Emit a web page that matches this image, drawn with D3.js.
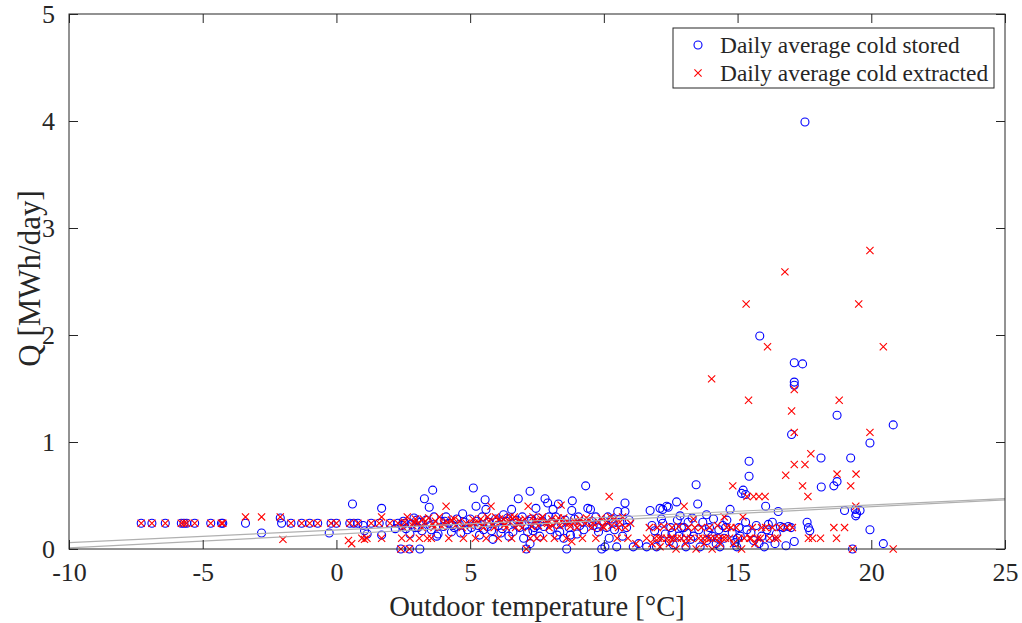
<!DOCTYPE html>
<html>
<head>
<meta charset="utf-8">
<script src="https://cdn.jsdelivr.net/npm/d3@7"></script>
<style>
  html, body { margin: 0; padding: 0; background: #fff; }
  svg { display: block; }
  text { font-family: "Liberation Serif", "Times New Roman", serif; fill: #262626; }
</style>
</head>
<body>
<svg id="chart" width="1022" height="623"></svg>
<script>
// ---------------- data ----------------
const xTicks = [-10, -5, 0, 5, 10, 15, 20, 25];
const yTicks = [0, 1, 2, 3, 4, 5];
const seriesNames = ["Daily average cold stored", "Daily average cold extracted"];
const xLabel = "Outdoor temperature [°C]";
const yLabel = "Q [MWh/day]";

// [outdoor temperature °C, Q MWh/day]
const stored = [
  [-7.3,0.24],[-6.9,0.24],[-6.4,0.24],[-5.8,0.24],[-5.7,0.24],[-5.6,0.24],[-5.3,0.24],[-4.7,0.24],[-4.3,0.24],[-4.25,0.24],
  [-3.4,0.24],[-2.8,0.15],[-2.1,0.29],[-2.05,0.24],[-1.7,0.24],[-1.3,0.24],[-1.0,0.24],[-0.7,0.24],[-0.27,0.15],[-0.2,0.24],
  [0.0,0.24],[0.5,0.24],[0.6,0.42],[0.65,0.24],[0.8,0.24],[1.0,0.22],[1.05,0.17],[1.15,0.14],[1.3,0.24],[1.6,0.24],
  [1.69,0.38],[1.69,0.13],[2.0,0.24],[2.2,0.19],
  [2.3,0.24],[2.41,0.0],[2.45,0.22],[2.5,0.26],[2.56,0.24],[2.6,0.19],[2.73,0.0],[2.75,0.14],[2.8,0.23],[2.9,0.29],
  [2.95,0.2],[3.0,0.27],[3.05,0.2],[3.12,0.0],[3.15,0.25],[3.2,0.17],[3.29,0.47],[3.35,0.27],[3.47,0.39],[3.5,0.22],
  [3.55,0.18],[3.6,0.55],[3.65,0.3],[3.75,0.12],[3.8,0.14],[3.9,0.26],[4.0,0.21],[4.05,0.26],[4.1,0.3],[4.2,0.24],
  [4.3,0.16],[4.35,0.22],[4.4,0.2],[4.5,0.28],[4.6,0.23],[4.65,0.15],[4.72,0.33],[4.8,0.25],[4.9,0.18],
  [5.0,0.28],[5.05,0.2],[5.12,0.57],[5.22,0.40],[5.25,0.26],[5.3,0.22],[5.35,0.13],[5.45,0.3],[5.5,0.18],[5.56,0.46],
  [5.59,0.37],[5.65,0.21],[5.7,0.25],[5.8,0.17],[5.85,0.09],[5.95,0.28],[6.0,0.25],[6.05,0.22],[6.15,0.15],[6.2,0.19],
  [6.25,0.32],[6.35,0.26],[6.4,0.29],[6.45,0.12],[6.55,0.37],[6.6,0.16],[6.65,0.24],[6.75,0.27],[6.8,0.47],[6.85,0.2],
  [6.95,0.3],[7.0,0.1],[7.05,0.22],[7.1,0.0],[7.15,0.16],[7.2,0.26],[7.24,0.54],[7.24,0.05],[7.3,0.28],[7.35,0.17],
  [7.4,0.2],[7.46,0.38],[7.5,0.22],[7.55,0.29],[7.6,0.12],[7.7,0.26],[7.75,0.21],[7.8,0.47],[7.9,0.43],[7.95,0.3],
  [8.0,0.18],[8.05,0.25],[8.1,0.37],[8.2,0.3],[8.25,0.13],[8.3,0.42],[8.35,0.16],[8.4,0.24],[8.5,0.1],[8.55,0.27],
  [8.61,0.0],[8.7,0.2],[8.75,0.13],[8.8,0.36],[8.82,0.45],[8.9,0.28],[9.0,0.14],[9.05,0.3],[9.1,0.22],[9.2,0.25],
  [9.25,0.18],[9.32,0.59],[9.4,0.38],[9.5,0.37],[9.55,0.26],[9.6,0.22],[9.7,0.3],[9.75,0.2],[9.8,0.16],[9.92,0.0],
  [10.0,0.26],[10.04,0.02],[10.1,0.2],[10.15,0.3],[10.2,0.1],[10.3,0.28],[10.35,0.24],[10.4,0.18],[10.48,0.02],[10.52,0.35],
  [10.6,0.25],[10.7,0.12],[10.79,0.43],[10.79,0.35],[10.85,0.2],[10.95,0.27],[11.1,0.02],[11.3,0.05],
  [11.6,0.02],[11.73,0.36],[11.8,0.22],[11.9,0.17],[11.97,0.02],[12.0,0.1],[12.1,0.38],[12.15,0.28],[12.2,0.37],[12.2,0.24],
  [12.3,0.14],[12.35,0.4],[12.41,0.39],[12.45,0.07],[12.5,0.2],[12.55,0.15],[12.6,0.04],[12.72,0.44],[12.75,0.27],[12.8,0.12],
  [12.85,0.31],[12.9,0.2],[13.0,0.2],[13.07,0.02],[13.1,0.15],[13.15,0.25],[13.25,0.09],[13.3,0.29],[13.35,0.12],[13.45,0.60],
  [13.51,0.42],[13.55,0.18],[13.6,0.02],[13.7,0.25],[13.84,0.32],[13.85,0.08],[13.9,0.16],[13.95,0.2],[14.05,0.12],[14.1,0.28],
  [14.2,0.05],[14.25,0.1],[14.3,0.18],[14.34,0.02],[14.45,0.22],[14.5,0.1],[14.55,0.2],[14.6,0.27],[14.72,0.37],[14.8,0.15],
  [14.9,0.06],[14.97,0.02],[15.0,0.1],
  [15.05,0.2],[15.1,0.12],[15.15,0.52],[15.21,0.55],[15.3,0.51],[15.3,0.25],[15.35,0.18],[15.43,0.82],[15.43,0.68],[15.5,0.15],
  [15.6,0.08],[15.7,0.22],[15.8,0.05],[15.83,1.99],[15.9,0.12],[16.0,0.02],[16.05,0.40],[16.1,0.18],[16.15,0.23],[16.2,0.1],
  [16.3,0.25],[16.4,0.05],[16.45,0.14],[16.52,0.35],[16.6,0.21],[16.7,0.2],[16.81,0.03],[16.9,0.21],[17.0,0.2],[17.02,1.07],
  [17.12,1.74],[17.12,1.56],[17.12,1.53],[17.12,0.07],[17.43,1.73],[17.52,3.99],[17.6,0.25],[17.65,0.2],[17.7,0.17],[18.12,0.85],
  [18.13,0.58],[18.6,0.59],[18.72,0.63],[18.72,1.25],[19.0,0.36],[19.23,0.85],[19.3,0.0],[19.4,0.37],[19.45,0.33],[19.42,0.31],
  [19.58,0.36],[19.95,0.99],[19.95,0.18],[20.45,0.05],[20.82,1.16]
];

const extracted = [
  [-7.3,0.24],[-6.9,0.24],[-6.4,0.24],[-5.8,0.24],[-5.7,0.24],[-5.6,0.24],[-5.3,0.24],[-4.7,0.24],[-4.3,0.24],[-4.25,0.24],
  [-3.4,0.30],[-2.8,0.30],[-2.1,0.30],[-2.0,0.09],[-1.7,0.24],[-1.3,0.24],[-1.0,0.24],[-0.7,0.24],[-0.2,0.24],[0.0,0.24],
  [0.45,0.08],[0.5,0.24],[0.57,0.05],[0.8,0.24],[0.95,0.1],[1.05,0.09],[1.14,0.1],[1.3,0.24],[1.6,0.24],[1.69,0.30],
  [1.69,0.1],[2.0,0.24],
  [2.3,0.24],[2.41,0.0],[2.44,0.1],[2.5,0.2],[2.55,0.25],[2.65,0.3],[2.73,0.0],[2.75,0.1],[2.85,0.22],[2.9,0.25],
  [2.95,0.28],[3.05,0.24],[3.1,0.1],[3.2,0.2],[3.25,0.28],[3.3,0.25],[3.4,0.1],[3.45,0.29],[3.55,0.1],[3.6,0.23],
  [3.65,0.2],[3.7,0.26],[3.85,0.3],[3.95,0.21],[4.0,0.24],[4.1,0.40],[4.15,0.25],[4.2,0.1],[4.3,0.27],[4.4,0.28],
  [4.45,0.22],[4.6,0.26],[4.7,0.2],[4.75,0.1],[4.85,0.24],
  [5.0,0.22],[5.1,0.28],[5.15,0.24],[5.2,0.1],[5.3,0.25],[5.4,0.28],[5.45,0.22],[5.5,0.2],[5.6,0.1],[5.65,0.3],
  [5.7,0.26],[5.78,0.40],[5.85,0.23],[5.9,0.2],[5.95,0.3],[6.05,0.1],[6.1,0.28],[6.15,0.25],[6.25,0.28],[6.3,0.23],
  [6.35,0.2],[6.45,0.26],[6.5,0.3],[6.55,0.1],[6.65,0.3],[6.7,0.2],[6.75,0.24],[6.85,0.27],[6.9,0.25],[6.95,0.2],
  [7.05,0.28],[7.1,0.0],[7.17,0.40],[7.25,0.1],[7.3,0.21],[7.35,0.3],[7.4,0.26],[7.45,0.25],[7.5,0.1],[7.55,0.22],
  [7.65,0.28],[7.7,0.3],[7.75,0.1],[7.85,0.25],[7.9,0.24],[7.95,0.2],[8.05,0.28],[8.1,0.22],[8.15,0.1],[8.25,0.26],
  [8.3,0.29],[8.35,0.22],[8.4,0.41],[8.5,0.29],[8.55,0.24],[8.6,0.1],[8.7,0.24],[8.75,0.21],[8.8,0.07],[8.9,0.26],
  [9.0,0.2],[9.05,0.25],[9.1,0.28],[9.2,0.1],[9.3,0.24],[9.35,0.29],[9.45,0.27],[9.55,0.2],[9.6,0.24],[9.7,0.1],
  [9.8,0.25],[9.9,0.29],[9.95,0.21],
  [10.0,0.2],[10.1,0.26],[10.2,0.49],[10.25,0.3],[10.3,0.22],[10.4,0.28],[10.5,0.1],[10.55,0.2],[10.6,0.25],[10.7,0.3],
  [10.8,0.2],[10.9,0.1],[11.0,0.24],[11.2,0.05],
  [11.6,0.1],[11.7,0.2],[11.8,0.05],[11.9,0.1],[12.0,0.2],[12.05,0.1],[12.1,0.02],[12.15,0.1],[12.25,0.21],[12.35,0.1],
  [12.45,0.05],[12.5,0.1],[12.55,0.2],[12.6,0.1],[12.7,0.0],[12.75,0.1],[12.8,0.21],[12.9,0.1],[13.0,0.40],[13.05,0.05],
  [13.1,0.1],[13.15,0.2],[13.25,0.1],[13.35,0.28],[13.4,0.2],[13.45,0.0],[13.55,0.1],[13.65,0.2],[13.7,0.1],[13.75,0.05],
  [13.85,0.1],[13.95,0.2],[14.0,0.1],[14.03,1.59],[14.05,0.0],[14.15,0.1],[14.25,0.22],[14.3,0.1],[14.35,0.05],[14.45,0.1],
  [14.5,0.30],[14.55,0.1],[14.6,0.2],[14.7,0.1],[14.75,0.2],[14.82,0.59],[14.85,0.05],[14.95,0.2],
  [15.05,0.1],[15.15,0.0],[15.2,0.30],[15.25,0.1],[15.32,2.29],[15.35,0.49],[15.41,1.39],[15.45,0.1],[15.5,0.1],[15.55,0.2],
  [15.6,0.49],[15.65,0.05],[15.75,0.1],[15.8,0.49],[15.85,0.1],[15.9,0.2],[16.03,0.49],[16.05,0.2],[16.12,1.89],[16.2,0.1],
  [16.3,0.2],[16.4,0.1],[16.5,0.1],[16.6,0.2],[16.77,2.59],[16.8,0.69],[16.85,0.2],[17.02,1.29],[17.05,0.2],[17.12,1.49],
  [17.12,1.09],[17.12,0.79],[17.43,0.59],[17.52,0.79],[17.63,0.49],[17.65,0.1],[17.74,0.89],[17.8,0.1],[18.1,0.1],[18.6,0.2],
  [18.7,0.1],[18.72,0.70],[18.8,1.39],[19.0,0.2],[19.23,0.59],[19.3,0.0],[19.43,0.70],[19.42,0.40],[19.53,2.29],[19.95,2.79],
  [19.95,1.09],[20.45,1.89],[20.82,0.0]
];

// linear trend lines (value at x = -10 and x = 25)
const trendX = [-10, 25];
const trendStored = [0.06, 0.47];
const trendExtracted = [0.01, 0.46];

// ---------------- chart ----------------
const W = 1022, H = 623;
const M = { left: 69, right: 1022 - 1005, top: 14, bottom: 623 - 549 };
const svg = d3.select("#chart");
const x = d3.scaleLinear().domain([-10, 25]).range([M.left, W - M.right]);
const y = d3.scaleLinear().domain([0, 5]).range([H - M.bottom, M.top]);
const axisColor = "#262626";
const tickFont = 26;
const serif = '"Liberation Serif", "Times New Roman", serif';

const plot = svg.append("g");

// markers: circles first
plot.append("g").selectAll("circle").data(stored).join("circle")
  .attr("cx", d => x(d[0])).attr("cy", d => y(d[1])).attr("r", 4)
  .attr("fill", "none").attr("stroke", "#0000ff").attr("stroke-width", 1.1);

const xs = 3.6;
plot.append("g").selectAll("path").data(extracted).join("path")
  .attr("d", d => {
    const cx = x(d[0]), cy = y(d[1]);
    return `M${cx - xs},${cy - xs}L${cx + xs},${cy + xs}M${cx - xs},${cy + xs}L${cx + xs},${cy - xs}`;
  })
  .attr("fill", "none").attr("stroke", "#ff0000").attr("stroke-width", 1.1);

// trend lines
const line = d3.line().x(d => x(d[0])).y(d => y(d[1]));
[trendStored, trendExtracted].forEach(vals => {
  plot.append("path").datum(trendX.map((t, i) => [t, vals[i]]))
    .attr("d", line).attr("fill", "none").attr("stroke", "#b0b0b0").attr("stroke-width", 1.2);
});

// axes box
const axG = svg.append("g");
axG.append("rect").attr("x", M.left).attr("y", M.top)
  .attr("width", W - M.right - M.left).attr("height", H - M.bottom - M.top)
  .attr("fill", "none").attr("stroke", axisColor).attr("stroke-width", 1);

const tl = 9;
const fmt = d => (d < 0 ? "-" + Math.abs(d) : String(d));
const xb = axG.append("g").attr("transform", `translate(0,${H - M.bottom})`)
  .call(d3.axisBottom(x).tickValues(xTicks).tickSize(-tl).tickPadding(14).tickFormat(fmt));
const xt = axG.append("g").attr("transform", `translate(0,${M.top})`)
  .call(d3.axisTop(x).tickValues(xTicks).tickSize(-tl).tickFormat(""));
const yl = axG.append("g").attr("transform", `translate(${M.left},0)`)
  .call(d3.axisLeft(y).tickValues(yTicks).tickSize(-tl).tickPadding(14).tickFormat(fmt));
const yr = axG.append("g").attr("transform", `translate(${W - M.right},0)`)
  .call(d3.axisRight(y).tickValues(yTicks).tickSize(-tl).tickFormat(""));

[xb, xt, yl, yr].forEach(g => {
  g.select(".domain").remove();
  g.selectAll(".tick line").attr("stroke", axisColor);
  g.selectAll(".tick text").attr("fill", axisColor)
    .style("font-family", serif).style("font-size", tickFont + "px");
});

// axis labels
svg.append("text").attr("x", (M.left + W - M.right) / 2).attr("y", 616)
  .attr("text-anchor", "middle").style("font-size", "28.6px").text(xLabel);
svg.append("text").attr("transform", `translate(40,${(M.top + H - M.bottom) / 2 - 3}) rotate(-90)`)
  .attr("text-anchor", "middle").style("font-size", "31px").text(yLabel);

// legend
const lg = svg.append("g");
lg.append("rect").attr("x", 673).attr("y", 28).attr("width", 321).attr("height", 60)
  .attr("fill", "#fff").attr("stroke", axisColor).attr("stroke-width", 1);
lg.append("circle").attr("cx", 698).attr("cy", 45).attr("r", 4)
  .attr("fill", "none").attr("stroke", "#0000ff").attr("stroke-width", 1.1);
lg.append("path").attr("d", `M${698 - xs},${73 - xs}L${698 + xs},${73 + xs}M${698 - xs},${73 + xs}L${698 + xs},${73 - xs}`)
  .attr("stroke", "#ff0000").attr("stroke-width", 1.1).attr("fill", "none");
lg.selectAll("text.lt").data(seriesNames).join("text").attr("class", "lt")
  .attr("x", 720).attr("y", (d, i) => 45 + i * 28).attr("dy", "0.35em")
  .style("font-size", "23.4px").text(d => d);
</script>
</body>
</html>
